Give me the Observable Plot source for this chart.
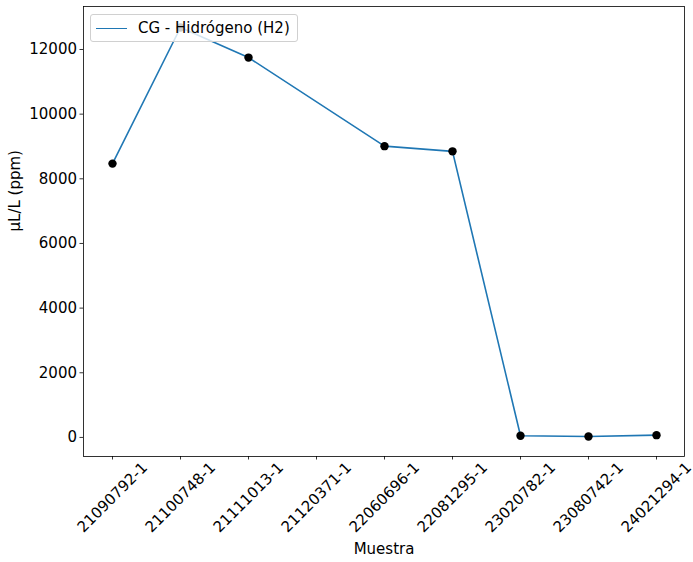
<!DOCTYPE html>
<html>
<head>
<meta charset="utf-8">
<script src="https://cdn.jsdelivr.net/npm/d3@7"></script>
<script src="https://cdn.jsdelivr.net/npm/@observablehq/plot@0.6"></script>
<style>
  html, body { margin: 0; padding: 0; background: #fff; }
  #wrap { position: relative; width: 693px; height: 562px; font-family: "DejaVu Sans", sans-serif; }
  #legend {
    position: absolute; left: 90px; top: 14px; width: 206px; height: 26px;
    background: rgba(255,255,255,0.8); border: 1px solid #d0d0d0; border-radius: 3px;
    display: flex; align-items: center; box-sizing: content-box;
  }
  #legend .swatch { width: 31px; height: 0; border-top: 1.6px solid #1f77b4; margin-left: 5px; margin-right: 11px; }
  #legend .label { font-size: 15px; color: #000; white-space: nowrap; }
</style>
</head>
<body>
<div id="wrap">
  <div id="chart"></div>
  <div id="legend"><div class="swatch"></div><div class="label">CG - Hidrógeno (H2)</div></div>
</div>
<script>
// Samples (x categories) and hydrogen readings in µL/L; 21120371-1 has no reading.
const categories = ["21090792-1", "21100748-1", "21111013-1", "21120371-1", "22060696-1",
                    "22081295-1", "23020782-1", "23080742-1", "24021294-1"];
const values = [8470, 12680, 11750, null, 9010, 8850, 50, 30, 70];
const yTicks = [0, 2000, 4000, 6000, 8000, 10000, 12000];
const seriesName = "CG - Hidrógeno (H2)";
const xTitle = "Muestra";
const yTitle = "μL/L (ppm)";

const rows = categories.map((c, i) => ({sample: c, value: values[i]}));
const measured = rows.filter(d => d.value != null);

const chart = Plot.plot({
  width: 693,
  height: 562,
  marginLeft: 83,
  marginRight: 9,
  marginTop: 6,
  marginBottom: 106,
  style: {fontFamily: "DejaVu Sans, sans-serif", fontSize: "15px", color: "#000", background: "#fff", overflow: "visible"},
  x: {type: "point", domain: categories, padding: 0.4},
  y: {domain: [-590, 13330]},
  marks: [
    Plot.line(measured, {x: "sample", y: "value", stroke: "#1f77b4", strokeWidth: 1.6}),
    Plot.dot(measured, {x: "sample", y: "value", r: 4.2, fill: "#000", stroke: null}),
    Plot.frame({stroke: "#000", strokeWidth: 0.8}),
    Plot.axisY({ticks: yTicks, tickSize: 3.5, tickPadding: 3, tickFormat: d => String(d), label: null, strokeWidth: 0.8, fontSize: "15px"}),
    Plot.axisX({ticks: categories, tickSize: 3.5, tickFormat: () => "", label: null, strokeWidth: 0.8}),
    Plot.text(categories, {x: d => d, frameAnchor: "bottom", dy: 41, rotate: -45, textAnchor: "middle", lineAnchor: "middle", fontSize: 15}),
    Plot.text([xTitle], {frameAnchor: "bottom", dy: 93, lineAnchor: "middle", fontSize: 15}),
    Plot.text([yTitle], {frameAnchor: "left", dx: -68, rotate: -90, lineAnchor: "middle", fontSize: 15})
  ]
});
document.getElementById("chart").appendChild(chart);
</script>
</body>
</html>
